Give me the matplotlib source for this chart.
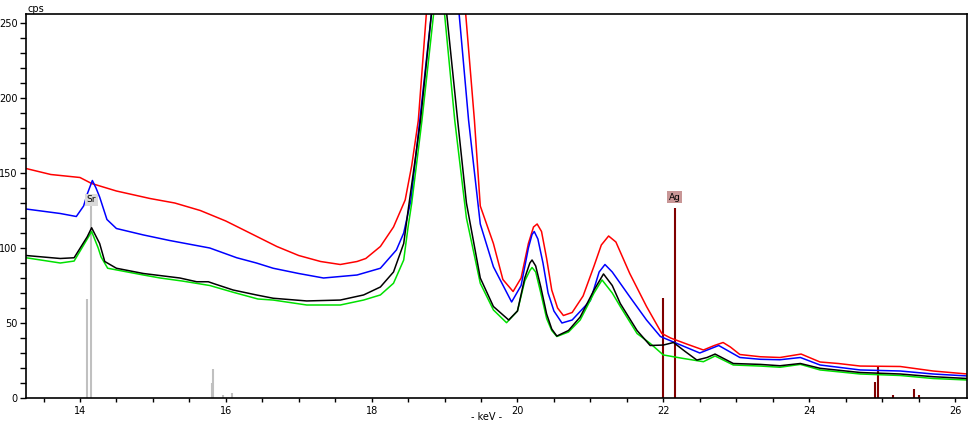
import numpy as np
import matplotlib
matplotlib.use('Agg')
import matplotlib.pyplot as plt
from matplotlib.ticker import MultipleLocator

# spectra (keV, cps)
red_kev = [13.26, 13.6, 14.0, 14.16, 14.5, 14.96, 15.3, 15.65, 16.0, 16.33, 16.7, 17.0, 17.3, 17.57, 17.8, 17.92,
           18.12, 18.3, 18.46, 18.55, 18.64, 18.75, 18.85, 19.05, 19.2, 19.29, 19.41, 19.49, 19.67, 19.8, 19.94,
           20.05, 20.15, 20.22, 20.27, 20.33, 20.4, 20.47, 20.55, 20.63, 20.75, 20.9, 21.05, 21.15, 21.25, 21.35,
           21.54, 21.77, 21.98, 22.1, 22.32, 22.55, 22.7, 22.82, 22.92, 23.05, 23.33, 23.6, 23.89, 24.15, 24.4,
           24.7, 25.25, 25.7, 26.17]
red_cps = [153, 149, 147, 143, 138, 133, 130, 125, 118, 110, 101, 95, 91, 89, 91, 93,
           101, 114, 132, 155, 185, 256, 330, 380, 330, 256, 185, 128, 103, 79, 71,
           80, 103, 114, 116, 111, 93, 72, 60, 55, 57, 68, 88, 102, 108, 104,
           83, 61, 43, 40, 36, 32, 35, 37, 34, 29, 27.5, 27, 29.3, 24, 23,
           21.3, 21, 18, 16]

blue_kev = [13.26, 13.73, 13.95, 14.05, 14.1, 14.17, 14.22, 14.27, 14.37, 14.5, 14.87, 15.23, 15.78, 16.15, 16.42,
            16.65, 17.0, 17.34, 17.8, 18.12, 18.34, 18.44, 18.54, 18.66, 18.82, 18.95, 19.05, 19.12, 19.2, 19.33,
            19.49, 19.67, 19.92, 20.05, 20.15, 20.2, 20.23, 20.28, 20.35, 20.42, 20.5, 20.61, 20.75, 21.0, 21.12,
            21.2, 21.3, 21.54, 21.77, 21.96, 22.18, 22.5, 22.76, 23.05, 23.33, 23.6, 23.88, 24.15, 24.7, 25.25,
            25.7, 26.17]
blue_cps = [126, 123, 121, 128, 136, 145, 140, 134, 119, 113, 108.7, 105, 100, 93.5, 90,
            86.5, 83, 80, 82, 86.5, 98.7, 110, 132, 185, 256, 340, 360, 330, 256, 185,
            116, 87.5, 64, 75, 100, 109, 111, 106, 90, 70, 58, 50, 52, 65, 84,
            89, 84, 67.5, 52, 41, 36.5, 30, 35, 27, 25.8, 25.5, 27, 22, 18.7, 18,
            16, 14.7]

black_kev = [13.26, 13.73, 13.92, 14.1, 14.16, 14.27, 14.34, 14.5, 14.87, 15.37, 15.6, 15.76, 15.85, 16.1, 16.42,
             16.65, 17.11, 17.57, 17.89, 18.12, 18.3, 18.44, 18.5, 18.6, 18.67, 18.82, 18.93, 19.0, 19.03, 19.18,
             19.3, 19.49, 19.67, 19.88, 20.0, 20.1, 20.17, 20.2, 20.25, 20.32, 20.4, 20.47, 20.54, 20.7, 20.86,
             21.05, 21.18, 21.3, 21.41, 21.64, 21.82, 22.0, 22.14, 22.3, 22.46, 22.6, 22.71, 22.96, 23.33, 23.6,
             23.88, 24.15, 24.7, 25.25, 25.7, 26.17]
black_cps = [95, 93, 93.5, 107.5, 113.5, 103, 91, 86.5, 83, 80, 77.5, 77.5, 76, 72, 68.7,
             66.5, 64.7, 65.3, 68.7, 74, 84, 103, 125, 160, 185, 256, 310, 280, 256, 185,
             130, 80, 61, 52, 58, 80, 90, 92, 88, 74, 56, 46, 41.3, 45, 54,
             72, 82.7, 75, 63, 45, 35, 35.3, 37, 31, 25.3, 27, 29.3, 23, 22.4, 21.5,
             23, 19.8, 17, 16, 14.2, 13]

green_kev = [13.26, 13.73, 13.92, 14.1, 14.16, 14.25, 14.29, 14.38, 14.87, 15.1, 15.4, 15.78, 16.1, 16.44, 16.65,
             17.11, 17.57, 17.89, 18.12, 18.3, 18.44, 18.5, 18.55, 18.69, 18.85, 18.93, 18.98, 19.0, 19.14, 19.3,
             19.49, 19.67, 19.85, 20.0, 20.1, 20.17, 20.2, 20.25, 20.32, 20.4, 20.47, 20.54, 20.7, 20.86, 21.05,
             21.16, 21.3, 21.41, 21.64, 21.82, 22.0, 22.27, 22.55, 22.71, 22.96, 23.33, 23.6, 23.88, 24.15, 24.7,
             25.25, 25.7, 26.17]
green_cps = [93.5, 90, 91.3, 106, 111, 100, 94, 86.5, 82, 80, 78, 75, 70.5, 66, 65.3,
             62, 62, 65.3, 68.7, 76.5, 92, 114, 130, 185, 256, 300, 270, 256, 185, 120,
             76.5, 58.7, 50.2, 58, 78, 85, 87, 84, 70, 53, 45, 41, 44, 52, 70,
             78.7, 70, 61, 43, 36.4, 28.7, 26.4, 24.2, 28, 22, 21.3, 20.5, 22.4, 18.7, 16,
             15, 13, 12]

# element marker lines
sr_kev = [14.10, 14.155, 15.815, 15.83, 15.966, 16.09]
sr_cps = [66, 128, 10, 19.3, 2, 3.3]
ag_kev = [21.99, 22.166, 24.91, 24.94, 25.145, 25.445, 25.50]
ag_cps = [67, 127, 10.7, 21, 2, 6, 2]

fig = plt.figure(figsize=(9.75, 4.25), dpi=100)
ax = fig.add_axes([26/975, 27/425, 941/975, 384/425])

# marker lines behind the spectra
ax.vlines(sr_kev, 0, sr_cps, colors='#c0c0c0', linewidth=1.5)
ax.vlines(ag_kev, 0, ag_cps, colors='#800000', linewidth=1.5)

ax.plot(red_kev, red_cps, color='#ff0000', linewidth=1.1)
ax.plot(blue_kev, blue_cps, color='#0000ff', linewidth=1.1)
ax.plot(green_kev, green_cps, color='#00e000', linewidth=1.1)
ax.plot(black_kev, black_cps, color='black', linewidth=1.1)

# element labels
ax.text(sr_kev[1], 132, 'Sr', fontsize=6.5, ha='center', va='center',
        bbox=dict(boxstyle='square,pad=0.2', fc='#d9d9d9', ec='none'))
ax.text(ag_kev[1] - 0.01, 134, 'Ag', fontsize=6.5, ha='center', va='center',
        bbox=dict(boxstyle='square,pad=0.2', fc='#c89696', ec='none'))

ax.set_xlim(13.26, 26.165)
ax.set_ylim(0, 256)
ax.xaxis.set_major_locator(MultipleLocator(2))
ax.xaxis.set_minor_locator(MultipleLocator(0.5))
ax.yaxis.set_major_locator(MultipleLocator(50))
ax.yaxis.set_minor_locator(MultipleLocator(10))
ax.tick_params(which='both', direction='out', labelsize=7, width=1)
ax.tick_params(axis='y', which='both', length=4, pad=2)
ax.tick_params(axis='x', which='both', length=3, pad=3)
for s in ax.spines.values():
    s.set_linewidth(1.2)

fig.text(487/975, 1 - 417/425, '- keV -', fontsize=7, ha='center', va='center')
fig.text(28/975, 1 - 9/425, 'cps', fontsize=7, ha='left', va='center')

fig.savefig('out.png', dpi=100)
